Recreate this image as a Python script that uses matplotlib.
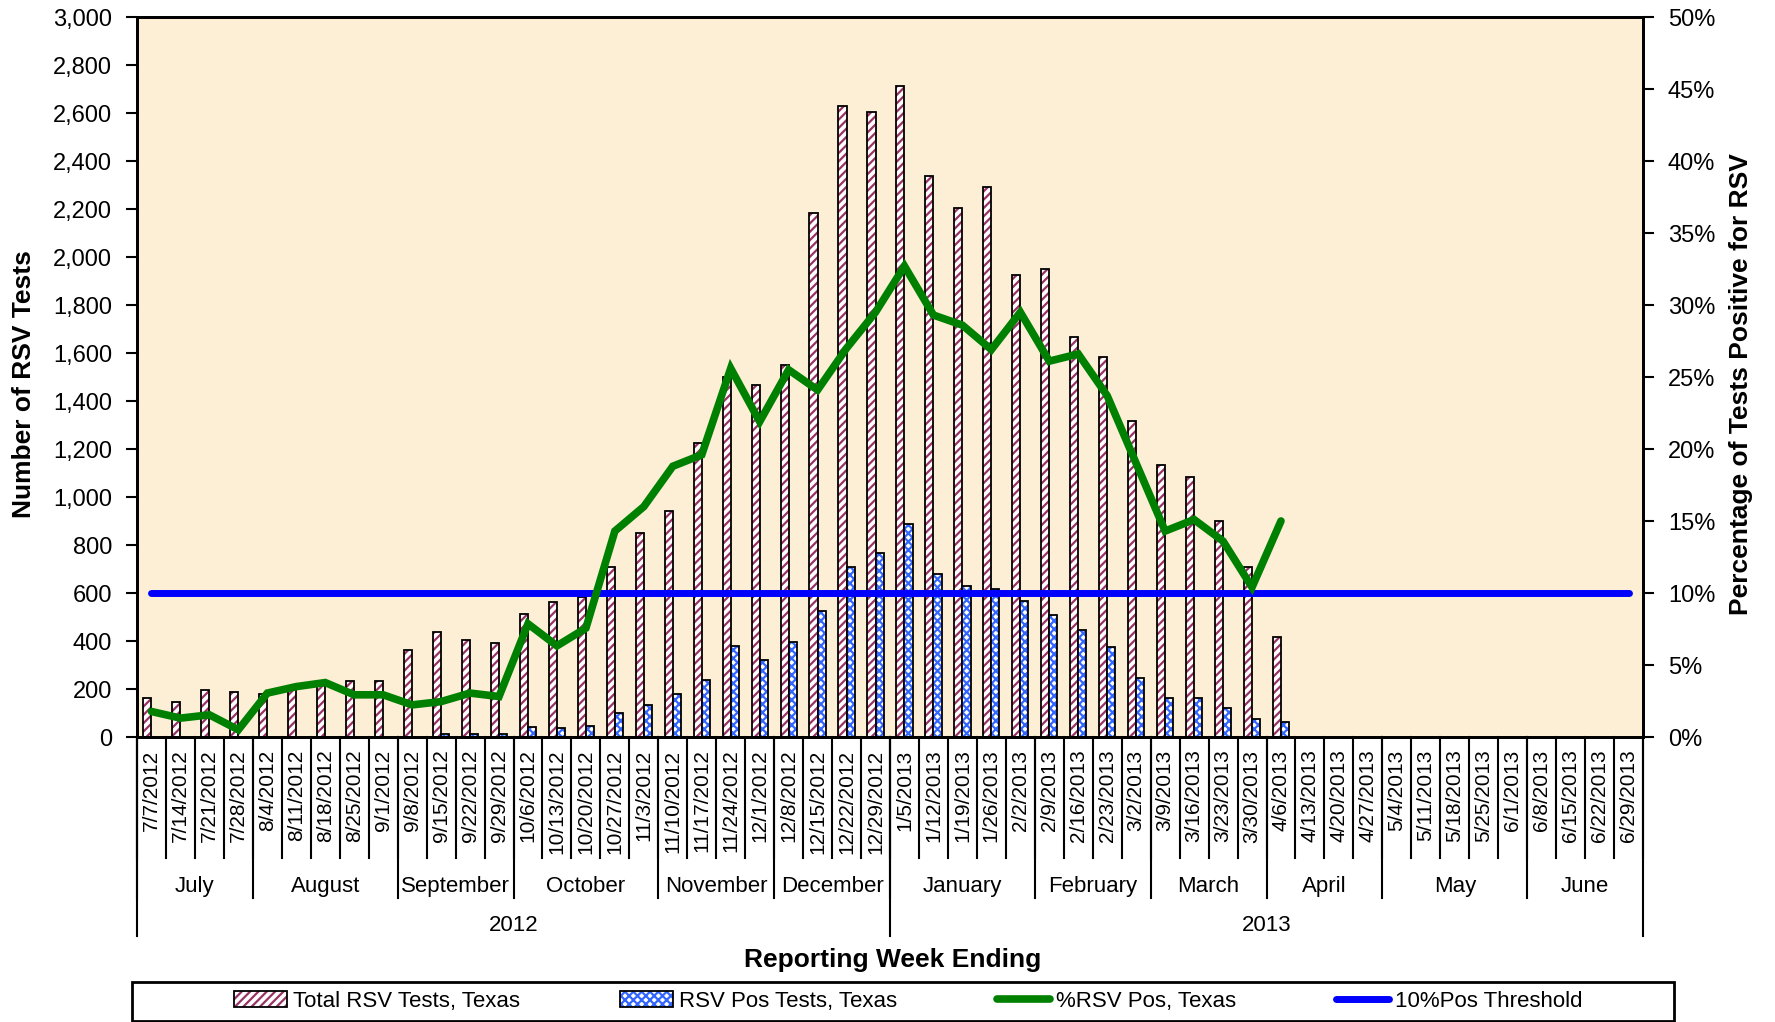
import numpy as np
import matplotlib
matplotlib.use('Agg')
import matplotlib.pyplot as plt
from matplotlib.patches import Patch, Rectangle
from matplotlib.lines import Line2D

plt.rcParams['font.family'] = ['Liberation Sans', 'DejaVu Sans']
plt.rcParams['hatch.linewidth'] = 1.6

# week ending dates
weeks = ['7/7/2012', '7/14/2012', '7/21/2012', '7/28/2012', '8/4/2012', '8/11/2012',
         '8/18/2012', '8/25/2012', '9/1/2012', '9/8/2012', '9/15/2012', '9/22/2012',
         '9/29/2012', '10/6/2012', '10/13/2012', '10/20/2012', '10/27/2012', '11/3/2012',
         '11/10/2012', '11/17/2012', '11/24/2012', '12/1/2012', '12/8/2012', '12/15/2012',
         '12/22/2012', '12/29/2012', '1/5/2013', '1/12/2013', '1/19/2013', '1/26/2013',
         '2/2/2013', '2/9/2013', '2/16/2013', '2/23/2013', '3/2/2013', '3/9/2013',
         '3/16/2013', '3/23/2013', '3/30/2013', '4/6/2013', '4/13/2013', '4/20/2013',
         '4/27/2013', '5/4/2013', '5/11/2013', '5/18/2013', '5/25/2013', '6/1/2013',
         '6/8/2013', '6/15/2013', '6/22/2013', '6/29/2013']

months = ['July', 'August', 'September', 'October', 'November', 'December',
          'January', 'February', 'March', 'April', 'May', 'June']
weeks_per_month = [4, 5, 4, 5, 4, 4, 5, 4, 4, 4, 5, 4]
years = ['2012', '2013']
weeks_per_year = [26, 26]

total_tests = [162, 146, 196, 187, 180, 200, 215, 235, 235, 363, 437, 404, 393, 512,
               562, 585, 710, 849, 942, 1225, 1500, 1466, 1548, 2182, 2630, 2606, 2713,
               2338, 2206, 2290, 1923, 1950, 1666, 1583, 1316, 1133, 1083, 900, 710, 418]
pos_tests = [0, 0, 0, 0, 0, 0, 0, 0, 0, 0, 11, 12, 11, 40, 36, 44, 101, 135, 178, 238,
             380, 320, 394, 527, 710, 767, 886, 680, 628, 618, 567, 509, 444, 376, 246,
             162, 162, 121, 77, 62]
pct_pos = [1.77, 1.31, 1.54, 0.5, 3.05, 3.5, 3.78, 2.93, 2.93, 2.23, 2.46, 3.05, 2.81,
           7.86, 6.33, 7.56, 14.3, 16.0, 18.8, 19.6, 25.6, 21.9, 25.5, 24.1, 27.0, 29.5,
           32.7, 29.3, 28.6, 26.9, 29.5, 26.1, 26.6, 23.7, 19.0, 14.3, 15.1, 13.6, 10.4, 15.0]
threshold = [10] * len(weeks)

n = len(weeks)
x = np.arange(n)
nd = len(total_tests)

W, H = 1775, 1022
fig = plt.figure(figsize=(W / 100, H / 100), dpi=100)
L, R, T, B = 137, 1643, 17, 737
ax = fig.add_axes([L / W, 1 - B / H, (R - L) / W, (B - T) / H])
ax.set_facecolor('#FCEFD6')

bw = 0.28
# total tests: maroon diagonal hatch then black outline
ax.bar(x[:nd] - bw / 2, total_tests, bw, color='white', edgecolor='#993366',
       hatch='////', linewidth=0)
ax.bar(x[:nd] - bw / 2, total_tests, bw, fill=False, edgecolor='black', linewidth=1.3)
pos_x = [xi + bw / 2 for xi, p in zip(x[:nd], pos_tests) if p > 0]
pos_h = [p for p in pos_tests if p > 0]
ax.bar(pos_x, pos_h, bw, color='white', edgecolor='#3366FF',
       hatch='xxxx', linewidth=0)
ax.bar(pos_x, pos_h, bw, fill=False, edgecolor='black', linewidth=1.3)

ax.set_xlim(-0.5, n - 0.5)
ax.set_ylim(0, 3000)
ax.set_yticks(range(0, 3001, 200))
ax.set_yticklabels(['{:,}'.format(v) for v in range(0, 3001, 200)], fontsize=17)
ax.tick_params(axis='y', direction='out', length=8, width=1.5, pad=10)
ax.set_xticks(x)
ax.set_xticklabels(weeks, rotation=90, fontsize=15, va='top', ha='center')
ax.tick_params(axis='x', length=0, pad=9)
for s in ax.spines.values():
    s.set_linewidth(2)
ax.set_ylabel('Number of RSV Tests', fontsize=19, fontweight='bold')
ax.yaxis.set_label_coords(-0.067, 0.49)

ax2 = ax.twinx()
ax2.plot(x, threshold, color='#0000FF', linewidth=5, solid_capstyle='round')
ax2.plot(x[:nd], pct_pos, color='#008000', linewidth=5.5, solid_capstyle='round',
         solid_joinstyle='miter')
ax2.set_ylim(0, 50)
ax2.set_yticks(range(0, 51, 5))
ax2.set_yticklabels(['{}%'.format(v) for v in range(0, 51, 5)], fontsize=17)
ax2.tick_params(axis='y', direction='out', length=8, width=1.5, pad=10)
ax2.set_ylabel('Percentage of Tests Positive for RSV', fontsize=19,
               fontweight='bold')
ax2.yaxis.set_label_coords(1.057, 0.49)
for s in ax2.spines.values():
    s.set_linewidth(2)

# multi-level category axis
tr = ax.get_xaxis_transform()
ph = B - T
y_week = -(858 - B) / ph
y_month = -(898 - B) / ph
y_year = -(936 - B) / ph
for k in range(n + 1):
    ax.plot([k - 0.5, k - 0.5], [0, y_week], color='black', lw=1.5,
            transform=tr, clip_on=False)
start = 0
for m, cnt in zip(months, weeks_per_month):
    ax.plot([start - 0.5, start - 0.5], [0, y_month], color='black', lw=1.5,
            transform=tr, clip_on=False)
    ax.text(start + (cnt - 1) / 2, -(886 - B) / ph, m, transform=tr,
            ha='center', va='center', fontsize=16)
    start += cnt
start = 0
for yr, cnt in zip(years, weeks_per_year):
    ax.plot([start - 0.5, start - 0.5], [0, y_year], color='black', lw=1.5,
            transform=tr, clip_on=False)
    ax.text(start + (cnt - 1) / 2, -(925 - B) / ph, yr, transform=tr,
            ha='center', va='center', fontsize=16)
    start += cnt
ax.plot([n - 0.5, n - 0.5], [0, y_year], color='black', lw=1.5,
        transform=tr, clip_on=False)

fig.text(893 / W, 1 - 960 / H, 'Reporting Week Ending', ha='center', va='center',
         fontsize=19, fontweight='bold')

# legend
fig.patches.append(Rectangle((132 / W, 1 - 1021 / H), (1674 - 132) / W, 39 / H,
                             transform=fig.transFigure, fill=False,
                             edgecolor='black', linewidth=2))
h_total = (Patch(facecolor='white', edgecolor='#993366', hatch='////', linewidth=0),
           Patch(fill=False, edgecolor='black', linewidth=1.3))
h_pos = (Patch(facecolor='white', edgecolor='#3366FF', hatch='xxxx', linewidth=0),
         Patch(fill=False, edgecolor='black', linewidth=1.3))
h_pct = Line2D([], [], color='#008000', linewidth=5.5, solid_capstyle='round')
h_thr = Line2D([], [], color='#0000FF', linewidth=5, solid_capstyle='round')
fig.legend([h_total, h_pos, h_pct, h_thr],
           ['Total RSV Tests, Texas', 'RSV Pos Tests, Texas', '%RSV Pos, Texas',
            '10%Pos Threshold'],
           loc='center', bbox_to_anchor=(908 / W, 1 - 1001 / H), ncol=4,
           frameon=False, fontsize=16, handlelength=2.4, handleheight=0.7,
           handletextpad=0.25, columnspacing=4.5)

fig.savefig('out.png', dpi=100)
